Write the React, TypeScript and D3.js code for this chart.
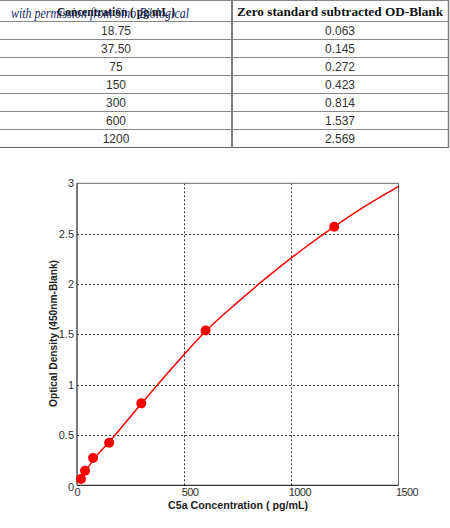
import React from "react";
import * as d3 from "d3";

const concLabels = ["18.75", "37.50", "75", "150", "300", "600", "1200"];
const odLabels = ["0.063", "0.145", "0.272", "0.423", "0.814", "1.537", "2.569"];
const concValues = [18.75, 37.5, 75, 150, 300, 600, 1200];
const odValues = [0.063, 0.145, 0.272, 0.423, 0.814, 1.537, 2.569];
// fitted curve
const curveX = [18.75, 75, 150, 300, 450, 600, 750, 900, 1050, 1200, 1350, 1500];
const curveY = [0.063, 0.25, 0.43, 0.81, 1.18, 1.53, 1.82, 2.09, 2.34, 2.57, 2.78, 2.97];
const xTicks = [0, 500, 1000, 1500];
const yTicks = [0, 0.5, 1, 1.5, 2, 2.5, 3];
const yTickLabels = ["0", "0.5", "1", "1.5", "2", "2.5", "3"];

export default function App() {
  const W = 450, H = 528;
  const x = d3.scaleLinear().domain([0, 1500]).range([77, 398.5]);
  const y = d3.scaleLinear().domain([0, 3]).range([485.3, 183.3]);
  const line = d3
    .line<number>()
    .x((_, i) => x(curveX[i]))
    .y((d) => y(d))
    .curve(d3.curveMonotoneX);

  const rowTop = 21.5, rowH = 18;
  const col1 = 116, col2 = 340, divX = 232;
  const sans = "'Liberation Sans', Arial, sans-serif";
  const serif = "'Liberation Serif', 'Times New Roman', serif";

  return (
    <svg width={W} height={H} style={{ position: "absolute", left: 0, top: 0, background: "#fff" }}>
      {/* table */}
      <g>
        <line x1={0} x2={449} y1={0.5} y2={0.5} stroke="#888" />
        {concLabels.map((_, i) => (
          <line key={i} x1={0} x2={449} y1={rowTop + i * rowH} y2={rowTop + i * rowH} stroke="#888" strokeWidth={1} />
        ))}
        <line x1={0} x2={449} y1={rowTop + concLabels.length * rowH} y2={rowTop + concLabels.length * rowH} stroke="#666" strokeWidth={1.2} />
        <line x1={divX} x2={divX} y1={0} y2={rowTop + concLabels.length * rowH} stroke="#808080" strokeWidth={2} />
        <line x1={448.5} x2={448.5} y1={0} y2={rowTop + concLabels.length * rowH} stroke="#808080" strokeWidth={1.5} />
        <text x={col1} y={16} textAnchor="middle" fontFamily={serif} fontWeight="bold" fontSize={13} fill="#111" textLength={118} lengthAdjust="spacingAndGlyphs">
          Concentration ( pg/mL )
        </text>
        <text x={col2} y={16} textAnchor="middle" fontFamily={serif} fontWeight="bold" fontSize={13} fill="#111" textLength={206} lengthAdjust="spacingAndGlyphs">
          Zero standard subtracted OD-Blank
        </text>
        <text x={11} y={17.5} fontFamily={serif} fontStyle="italic" fontSize={14} fill="#18276a" textLength={178} lengthAdjust="spacingAndGlyphs">
          with permission from Sino Biological
        </text>
        {concLabels.map((c, i) => (
          <text key={"c" + i} x={col1} y={rowTop + i * rowH + 13.5} textAnchor="middle" fontFamily={sans} fontSize={12} fill="#333">
            {c}
          </text>
        ))}
        {odLabels.map((c, i) => (
          <text key={"o" + i} x={col2} y={rowTop + i * rowH + 13.5} textAnchor="middle" fontFamily={sans} fontSize={12} fill="#333">
            {c}
          </text>
        ))}
      </g>

      {/* plot grid */}
      <g stroke="#333" strokeWidth={1} strokeDasharray="2,2">
        {xTicks.slice(1, -1).map((t) => (
          <line key={"gx" + t} x1={Math.round(x(t)) + 0.5} x2={Math.round(x(t)) + 0.5} y1={y(3)} y2={y(0)} />
        ))}
        {yTicks.slice(1, -1).map((t) => (
          <line key={"gy" + t} x1={x(0)} x2={x(1500)} y1={Math.round(y(t)) + 0.5} y2={Math.round(y(t)) + 0.5} />
        ))}
      </g>
      {/* frame */}
      <line x1={x(0)} x2={x(1500)} y1={y(3)} y2={y(3)} stroke="#666" strokeWidth={1} />
      <line x1={x(1500)} x2={x(1500)} y1={y(3)} y2={y(0)} stroke="#666" strokeWidth={1} />
      <line x1={x(0)} x2={x(0)} y1={y(3)} y2={y(0)} stroke="#333" strokeWidth={1.3} />
      <line x1={x(0)} x2={x(1500)} y1={y(0)} y2={y(0)} stroke="#333" strokeWidth={1.3} />

      {/* curve */}
      <path d={line(curveY) || ""} fill="none" stroke="#ff0000" strokeWidth={1.5} />
      {concValues.map((c, i) => (
        <circle key={"p" + i} cx={x(c)} cy={y(odValues[i])} r={5} fill="#ff0000" />
      ))}

      {/* ticks */}
      {yTicks.map((t, i) => (
        <text key={"yt" + t} x={74} y={y(t) + (t === 0 ? 5.5 : 4)} textAnchor="end" fontFamily={sans} fontSize={11} fill="#333">
          {yTickLabels[i]}
        </text>
      ))}
      {xTicks.map((t) => (
        <text key={"xt" + t} x={x(t) - 2.5} y={496} textAnchor="start" fontFamily={sans} fontSize={11} fill="#333" letterSpacing={-0.6}>
          {String(t)}
        </text>
      ))}
      <text x={238} y={509} textAnchor="middle" fontFamily={sans} fontWeight="bold" fontSize={11} fill="#222" textLength={140} lengthAdjust="spacingAndGlyphs">
        C5a Concentration  ( pg/mL)
      </text>
      <text transform="translate(57,333.5) rotate(-90)" textAnchor="middle" fontFamily={sans} fontWeight="bold" fontSize={11} fill="#222" textLength={147} lengthAdjust="spacingAndGlyphs">
        Optical Density (450nm-Blank)
      </text>
    </svg>
  );
}
